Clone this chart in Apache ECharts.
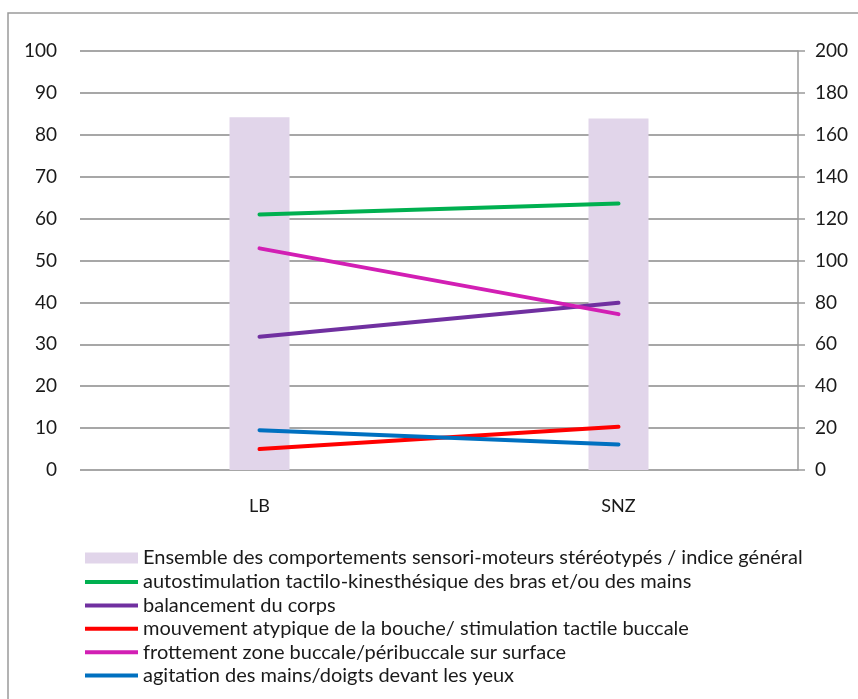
<!DOCTYPE html>
<html>
<head>
<meta charset="utf-8">
<script src="https://cdn.jsdelivr.net/npm/echarts@6/dist/echarts.min.js"></script>
<style>
html,body{margin:0;padding:0;background:#fff;}
#main{width:858px;height:699px;}
</style>
</head>
<body>
<div id="main"></div>
<script>
// catégories et valeurs
var categories = ['LB', 'SNZ'];
var indiceGeneral = [168.4, 167.8];          // barres, axe de droite
var autostimulation = [61.0, 63.6];
var balancement = [31.8, 39.9];
var mouvementBouche = [5.0, 10.3];
var frottement = [52.9, 37.2];
var agitation = [9.5, 6.1];

var noms = [
    'Ensemble des comportements sensori-moteurs stéréotypés / indice général',
    'autostimulation tactilo-kinesthésique des bras et/ou des mains',
    'balancement du corps',
    'mouvement atypique de la bouche/ stimulation tactile buccale',
    'frottement zone buccale/péribuccale sur surface',
    'agitation des mains/doigts devant les yeux'
];
var couleurs = ['#e1d5ea', '#00b050', '#7030a0', '#ff0000', '#d21fb4', '#0070c0'];

var police = 'Lato';
var myChart = echarts.init(document.getElementById('main'));

function ligne(idx, data) {
    return {
        name: noms[idx],
        type: 'line',
        yAxisIndex: 0,
        data: data,
        symbol: 'none',
        z: 5,
        lineStyle: {color: couleurs[idx], width: 4, cap: 'round'},
        itemStyle: {color: couleurs[idx]}
    };
}

var option = {
    animation: false,
    textStyle: {fontFamily: police},
    graphic: [{
        type: 'rect',
        shape: {x: 8, y: 13, width: 870, height: 700},
        style: {fill: 'none', stroke: '#9a9a9a', lineWidth: 1.5}
    }],
    grid: {left: 80, right: 60, top: 51, bottom: 229},
    legend: [{
        orient: 'vertical',
        left: 85,
        top: 548,
        padding: 0,
        itemWidth: 53,
        itemHeight: 11,
        icon: 'rect',
        textStyle: {fontFamily: police, fontSize: 20, color: '#1a1a1a', lineHeight: 20},
        data: [noms[0]]
    }, {
        orient: 'vertical',
        left: 85,
        top: 572,
        padding: 0,
        itemWidth: 53,
        itemHeight: 4,
        itemGap: 3.4,
        icon: 'rect',
        textStyle: {fontFamily: police, fontSize: 20, color: '#1a1a1a', lineHeight: 20},
        data: noms.slice(1)
    }],
    xAxis: {
        type: 'category',
        data: categories,
        axisLine: {show: false},
        axisTick: {show: false},
        axisLabel: {fontSize: 18, color: '#1a1a1a', margin: 27}
    },
    yAxis: [{
        type: 'value',
        min: 0, max: 100, interval: 10,
        axisLine: {show: false},
        axisTick: {show: false},
        axisLabel: {fontSize: 19, color: '#1a1a1a', margin: 23},
        splitLine: {lineStyle: {color: '#8a8a8a', width: 1.5}}
    }, {
        type: 'value',
        position: 'right',
        min: 0, max: 200, interval: 20,
        axisLine: {show: true, lineStyle: {color: '#9a9a9a', width: 1.5}},
        axisTick: {show: true, length: 7, lineStyle: {color: '#9a9a9a', width: 1.5}},
        axisLabel: {fontSize: 19, color: '#1a1a1a', margin: 17},
        splitLine: {show: false}
    }],
    series: [{
        name: noms[0],
        type: 'bar',
        yAxisIndex: 1,
        data: indiceGeneral,
        barWidth: 60,
        z: 1,
        itemStyle: {color: couleurs[0]}
    },
        ligne(1, autostimulation),
        ligne(2, balancement),
        ligne(3, mouvementBouche),
        ligne(4, frottement),
        ligne(5, agitation)
    ]
};
myChart.setOption(option);
</script>
</body>
</html>
